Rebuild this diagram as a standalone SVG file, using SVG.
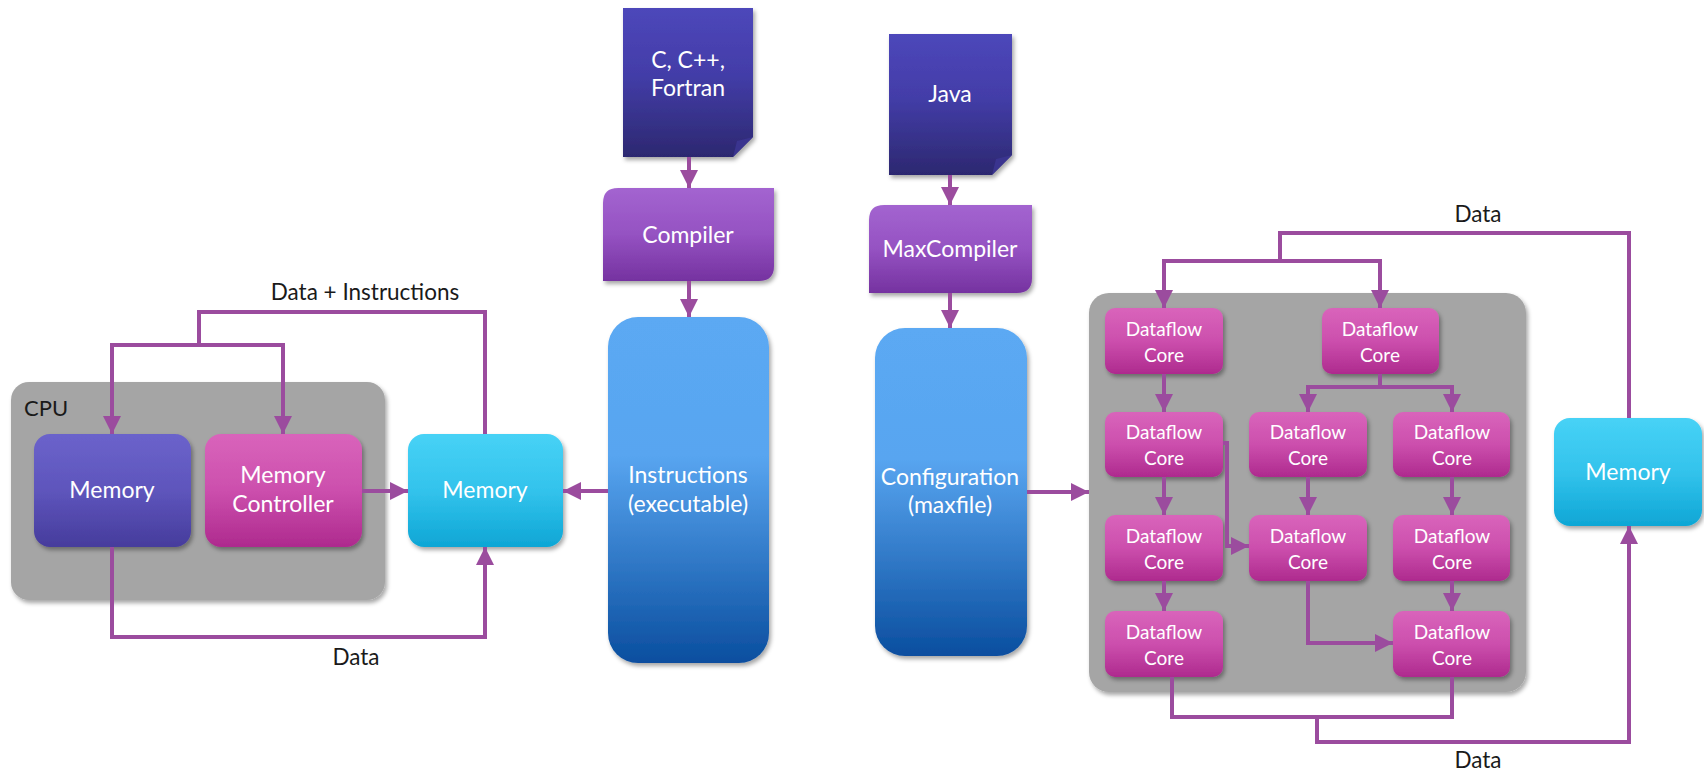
<svg xmlns="http://www.w3.org/2000/svg" width="1704" height="772" viewBox="0 0 1704 772">
<defs>
  <linearGradient id="gPurple" x1="0" y1="0" x2="0" y2="1">
    <stop offset="0" stop-color="#6b63cb"/><stop offset="0.5" stop-color="#5e55bc"/><stop offset="1" stop-color="#463c9c"/>
  </linearGradient>
  <linearGradient id="gPink" x1="0" y1="0" x2="0" y2="1">
    <stop offset="0" stop-color="#d964bb"/><stop offset="0.5" stop-color="#cc4fad"/><stop offset="1" stop-color="#ae2a8e"/>
  </linearGradient>
  <linearGradient id="gCyan" x1="0" y1="0" x2="0" y2="1">
    <stop offset="0" stop-color="#47d2f6"/><stop offset="0.5" stop-color="#33c3ec"/><stop offset="1" stop-color="#0ea6d5"/>
  </linearGradient>
  <linearGradient id="gDoc" x1="0" y1="0" x2="0" y2="1">
    <stop offset="0" stop-color="#4d47ba"/><stop offset="0.45" stop-color="#433da8"/><stop offset="1" stop-color="#2c2870"/>
  </linearGradient>
  <linearGradient id="gComp" x1="0" y1="0" x2="0" y2="1">
    <stop offset="0" stop-color="#a364d0"/><stop offset="0.5" stop-color="#9552c2"/><stop offset="1" stop-color="#7532a0"/>
  </linearGradient>
  <linearGradient id="gBlue" x1="0" y1="0" x2="0" y2="1">
    <stop offset="0" stop-color="#5ba9f3"/><stop offset="0.4" stop-color="#58a5f0"/><stop offset="1" stop-color="#0a4e9f"/>
  </linearGradient>
  <filter id="sh" x="-10%" y="-10%" width="130%" height="130%">
    <feDropShadow dx="2" dy="3" stdDeviation="2" flood-color="#000" flood-opacity="0.35"/>
  </filter>
  <marker id="ar" markerUnits="userSpaceOnUse" viewBox="0 0 18 18" refX="18" refY="9" markerWidth="18" markerHeight="18" orient="auto">
    <path d="M0,0 L18,9 L0,18 z" fill="#9b4c9e"/>
  </marker>
  <style>
    .lbl{font-family:Lato,"Liberation Sans",sans-serif;font-size:22.5px;fill:#1a1a1a;text-anchor:middle}
    .nt{font-family:Lato,"Liberation Sans",sans-serif;font-size:23px;fill:#ffffff;text-anchor:middle}
    .dt{font-family:Lato,"Liberation Sans",sans-serif;font-size:19px;fill:#ffffff;text-anchor:middle}
    .c{fill:none;stroke:#9b4c9e;stroke-width:4}
    .ca{fill:none;stroke:#9b4c9e;stroke-width:4;marker-end:url(#ar)}
    .df{fill:url(#gPink);filter:url(#sh)}
  </style>
</defs>
<rect width="1704" height="772" fill="#ffffff"/>

<g id="cpu">
  <rect x="11" y="382" width="374" height="218" rx="18" fill="#a5a5a5" filter="url(#sh)"/>
  <text x="24" y="416" font-family="Lato,'Liberation Sans',sans-serif" font-size="22" fill="#1a1a1a">CPU</text>
</g>
<g id="cpu-memory">
  <rect x="34" y="434" width="157" height="113" rx="16" fill="url(#gPurple)" filter="url(#sh)"/>
  <text class="nt" x="112" y="498">Memory</text>
</g>
<g id="memory-controller">
  <rect x="205" y="434" width="157" height="113" rx="16" fill="url(#gPink)" filter="url(#sh)"/>
  <text class="nt" x="283" y="483">Memory</text>
  <text class="nt" x="283" y="512">Controller</text>
</g>
<g id="memory-left">
  <rect x="408" y="434" width="155" height="113" rx="16" fill="url(#gCyan)" filter="url(#sh)"/>
  <text class="nt" x="485" y="498">Memory</text>
</g>

<g id="src-c">
  <path d="M623,8 H753 V137 L733,157 H623 Z" fill="url(#gDoc)" filter="url(#sh)"/>
  <path d="M733,157 L737,141 L753,137 Z" fill="#3a348f"/>
  <text class="nt" x="688" y="68">C, C++,</text>
  <text class="nt" x="688" y="96">Fortran</text>
</g>
<g id="compiler">
  <path d="M618,188 H774 V266 Q774,281 759,281 H603 V203 Q603,188 618,188 Z" fill="url(#gComp)" filter="url(#sh)"/>
  <text class="nt" x="688" y="243">Compiler</text>
</g>
<g id="instructions">
  <rect x="608" y="317" width="161" height="346" rx="30" fill="url(#gBlue)" filter="url(#sh)"/>
  <text class="nt" x="688" y="483">Instructions</text>
  <text class="nt" x="688" y="512">(executable)</text>
</g>

<g id="src-java">
  <path d="M889,34 H1012 V155 L992,175 H889 Z" fill="url(#gDoc)" filter="url(#sh)"/>
  <path d="M992,175 L996,159 L1012,155 Z" fill="#3a348f"/>
  <text class="nt" x="950" y="102">Java</text>
</g>
<g id="maxcompiler">
  <path d="M884,205 H1032 V278 Q1032,293 1017,293 H869 V220 Q869,205 884,205 Z" fill="url(#gComp)" filter="url(#sh)"/>
  <text class="nt" x="950" y="257">MaxCompiler</text>
</g>
<g id="configuration">
  <rect x="875" y="328" width="152" height="328" rx="30" fill="url(#gBlue)" filter="url(#sh)"/>
  <text class="nt" x="950" y="485">Configuration</text>
  <text class="nt" x="950" y="513">(maxfile)</text>
</g>

<g id="dataflow-engine">
  <rect x="1089" y="293" width="437" height="399" rx="20" fill="#a5a5a5" filter="url(#sh)"/>
</g>
<g id="df-1-1"><rect class="df" x="1105" y="308" width="118" height="66" rx="10"/><text class="dt" x="1164" y="336">Dataflow</text><text class="dt" x="1164" y="362">Core</text></g>
<g id="df-1-2"><rect class="df" x="1105" y="412" width="118" height="65" rx="10"/><text class="dt" x="1164" y="439">Dataflow</text><text class="dt" x="1164" y="465">Core</text></g>
<g id="df-1-3"><rect class="df" x="1105" y="515" width="118" height="66" rx="10"/><text class="dt" x="1164" y="543">Dataflow</text><text class="dt" x="1164" y="569">Core</text></g>
<g id="df-1-4"><rect class="df" x="1105" y="611" width="118" height="66" rx="10"/><text class="dt" x="1164" y="639">Dataflow</text><text class="dt" x="1164" y="665">Core</text></g>
<g id="df-top-right"><rect class="df" x="1322" y="308" width="117" height="66" rx="10"/><text class="dt" x="1380" y="336">Dataflow</text><text class="dt" x="1380" y="362">Core</text></g>
<g id="df-2-2"><rect class="df" x="1249" y="412" width="118" height="65" rx="10"/><text class="dt" x="1308" y="439">Dataflow</text><text class="dt" x="1308" y="465">Core</text></g>
<g id="df-2-3"><rect class="df" x="1249" y="515" width="118" height="66" rx="10"/><text class="dt" x="1308" y="543">Dataflow</text><text class="dt" x="1308" y="569">Core</text></g>
<g id="df-3-2"><rect class="df" x="1393" y="412" width="117" height="65" rx="10"/><text class="dt" x="1452" y="439">Dataflow</text><text class="dt" x="1452" y="465">Core</text></g>
<g id="df-3-3"><rect class="df" x="1393" y="515" width="117" height="66" rx="10"/><text class="dt" x="1452" y="543">Dataflow</text><text class="dt" x="1452" y="569">Core</text></g>
<g id="df-3-4"><rect class="df" x="1393" y="611" width="117" height="66" rx="10"/><text class="dt" x="1452" y="639">Dataflow</text><text class="dt" x="1452" y="665">Core</text></g>

<g id="memory-right">
  <rect x="1554" y="418" width="148" height="108" rx="16" fill="url(#gCyan)" filter="url(#sh)"/>
  <text class="nt" x="1628" y="480">Memory</text>
</g>

<g id="connectors">
  <path class="c" d="M485,434 V312 H199 V345"/>
  <path class="ca" d="M199,345 H112 V434"/>
  <path class="ca" d="M199,345 H283 V434"/>
  <path class="ca" d="M362,491 H408"/>
  <path class="ca" d="M112,547 V637 H485 V547"/>
  <path class="ca" d="M608,491 H563"/>
  <path class="ca" d="M689,157 V188"/>
  <path class="ca" d="M689,281 V317"/>
  <path class="ca" d="M950,175 V205"/>
  <path class="ca" d="M950,293 V328"/>
  <path class="ca" d="M1027,492 H1089"/>
  <path class="c" d="M1629,418 V233 H1280 V261"/>
  <path class="ca" d="M1280,261 H1164 V308"/>
  <path class="ca" d="M1280,261 H1380 V308"/>
  <path class="ca" d="M1164,374 V412"/>
  <path class="ca" d="M1164,477 V515"/>
  <path class="ca" d="M1164,581 V611"/>
  <path class="c" d="M1380,374 V387"/>
  <path class="ca" d="M1380,387 H1308 V412"/>
  <path class="ca" d="M1380,387 H1452 V412"/>
  <path class="ca" d="M1308,477 V515"/>
  <path class="ca" d="M1452,477 V515"/>
  <path class="ca" d="M1452,581 V611"/>
  <path class="ca" d="M1223,443 H1227 V546 H1249"/>
  <path class="ca" d="M1308,581 V643 H1393"/>
  <path class="c" d="M1172,677 V717 H1452 V677"/>
  <path class="ca" d="M1317,717 V742 H1629 V526"/>
  <text class="lbl" x="365" y="300">Data + Instructions</text>
  <text class="lbl" x="356" y="665">Data</text>
  <text class="lbl" x="1478" y="222">Data</text>
  <text class="lbl" x="1478" y="768">Data</text>
</g>
</svg>
